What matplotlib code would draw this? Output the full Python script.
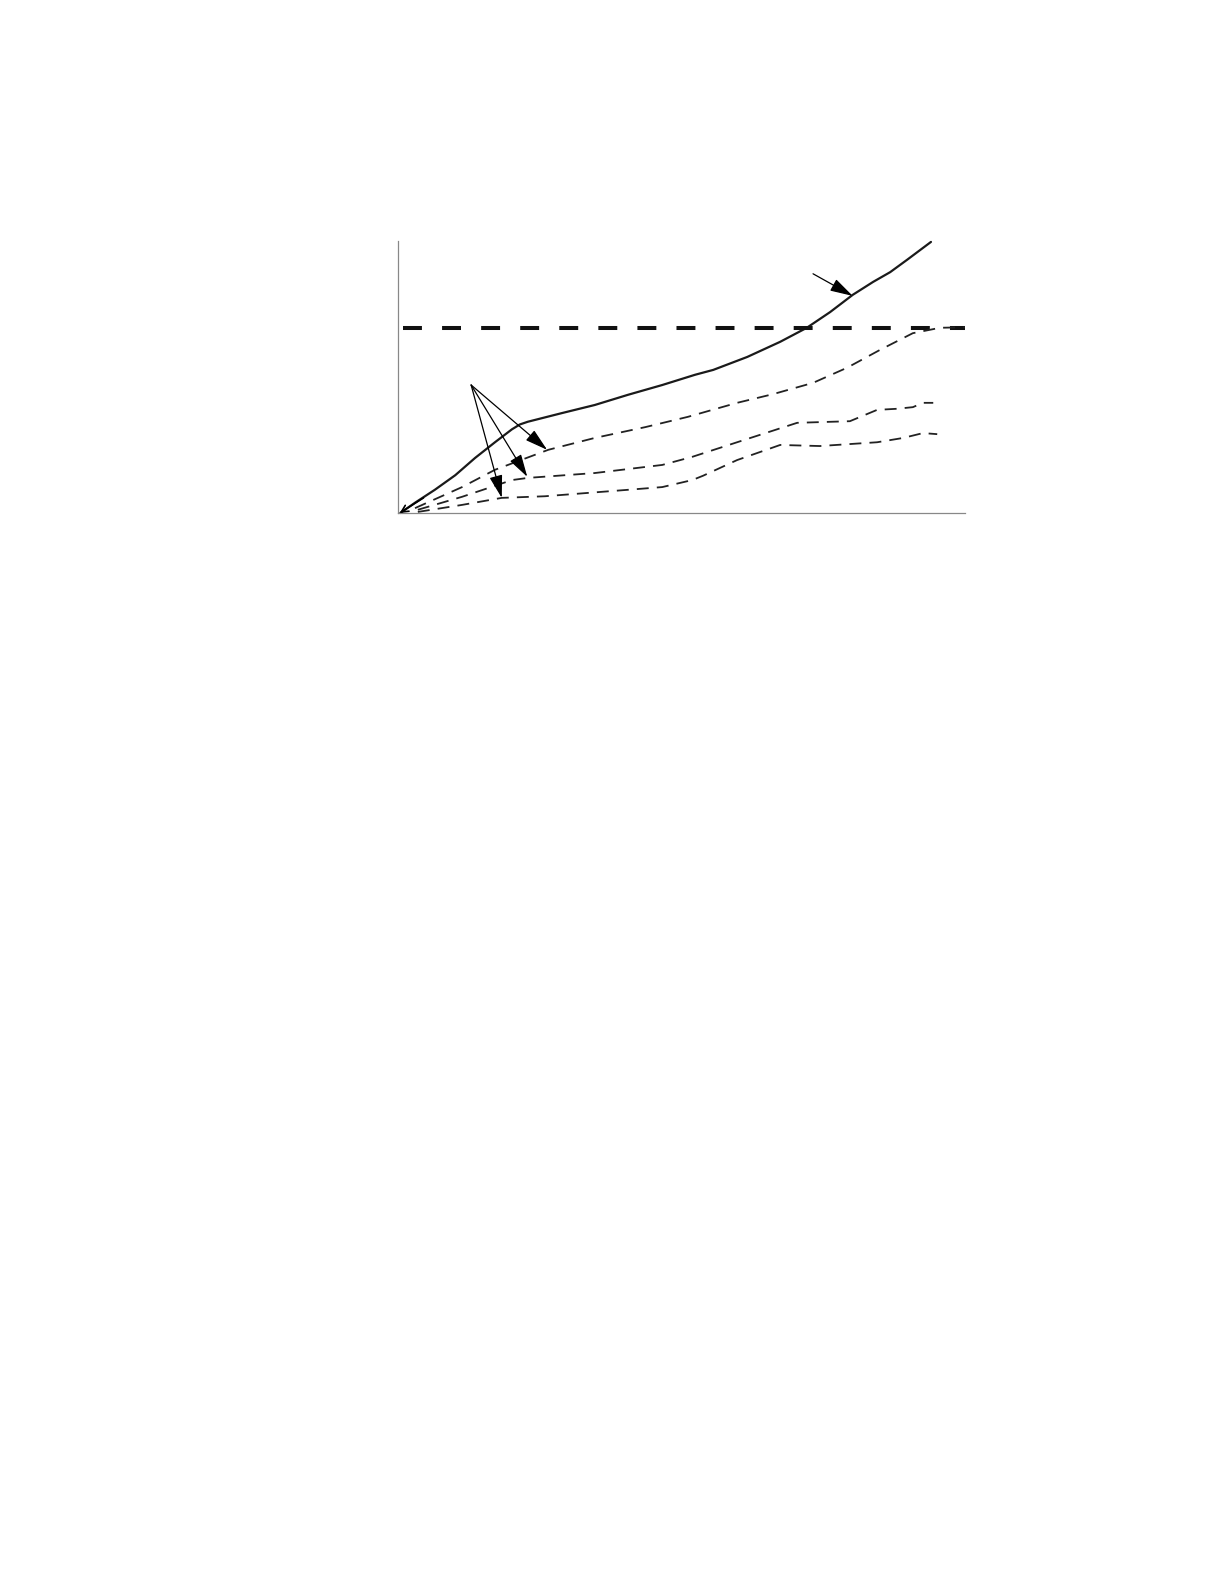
import matplotlib
matplotlib.use("Agg")
import matplotlib.pyplot as plt

# solid curve
solid_x = [0.04, 0.30, 0.65, 1.01, 1.36, 1.71, 2.01, 2.15, 2.29, 2.89, 3.47, 4.06, 4.66,
           5.24, 5.56, 6.16, 6.74, 7.21, 7.62, 8.02, 8.38, 8.68, 8.98, 9.40]
solid_y = [0.00, 0.19, 0.43, 0.70, 1.02, 1.31, 1.55, 1.64, 1.69, 1.85, 2.00, 2.19, 2.37,
           2.56, 2.65, 2.89, 3.17, 3.43, 3.72, 4.04, 4.28, 4.46, 4.69, 5.02]

# horizontal limit line
limit_y = 3.43
limit_x = [0.09, 10.0]

# three thin dashed curves
upper_x = [0.30, 1.13, 1.71, 2.65, 3.47, 4.36, 5.11, 5.98, 6.61, 7.32, 7.92, 8.50,
           9.08, 9.56, 10.0]
upper_y = [0.09, 0.48, 0.80, 1.17, 1.39, 1.59, 1.78, 2.04, 2.20, 2.41, 2.69, 3.02,
           3.33, 3.43, 3.44]
middle_x = [0.35, 1.13, 2.01, 2.29, 3.47, 4.66, 5.19, 5.98, 7.04, 7.97, 8.45, 8.80,
            9.08, 9.26, 9.44]
middle_y = [0.06, 0.30, 0.61, 0.65, 0.74, 0.89, 1.04, 1.31, 1.67, 1.70, 1.91, 1.93,
            1.96, 2.04, 2.04]
lower_x = [0.35, 1.13, 1.83, 2.59, 4.06, 4.66, 5.19, 5.38, 5.98, 6.74, 7.44, 8.45,
           8.91, 9.26, 9.51]
lower_y = [0.02, 0.15, 0.28, 0.31, 0.43, 0.48, 0.61, 0.69, 0.98, 1.26, 1.24, 1.31,
           1.39, 1.48, 1.46]

# annotation arrows
fan_start = (1.29, 2.37)
fan_heads = [(2.63, 1.17), (2.28, 0.67), (1.83, 0.28)]
top_arrow = ((7.32, 4.43), (8.02, 4.02))
origin_arrow = ((0.45, 0.28), (0.03, 0.0))

fig = plt.figure(figsize=(12.24, 15.84), dpi=100)
ax = fig.add_axes([398 / 1224, 1 - 513 / 1584, 567 / 1224, 272 / 1584])

ax.plot(solid_x, solid_y, color="#1a1a1a", lw=1.6, solid_capstyle="round",
        solid_joinstyle="round", clip_on=False)
ax.plot(limit_x, [limit_y, limit_y], color="#111111", lw=2.9, dashes=(4.7, 5.0))
for xs, ys in [(upper_x, upper_y), (middle_x, middle_y), (lower_x, lower_y)]:
    ax.plot(xs, ys, color="#222222", lw=1.3, dashes=(6.6, 4.5))

head = dict(arrowstyle="-|>,head_length=1.4,head_width=0.4", color="black",
            lw=0.9, shrinkA=0, shrinkB=0, mutation_scale=10)
for hx, hy in fan_heads:
    ax.annotate("", xy=(hx, hy), xytext=fan_start, arrowprops=head)
ax.annotate("", xy=top_arrow[1], xytext=top_arrow[0], arrowprops=head)

# small open arrowhead at origin along the solid curve
ax.annotate("", xy=origin_arrow[1], xytext=origin_arrow[0],
            arrowprops=dict(arrowstyle="->,head_length=0.5,head_width=0.25",
                            color="black", lw=1.2, shrinkA=0, shrinkB=0,
                            mutation_scale=10))

ax.set_xlim(0, 10)
ax.set_ylim(0, 272 / 54)
for s in ["top", "right"]:
    ax.spines[s].set_visible(False)
for s in ["left", "bottom"]:
    ax.spines[s].set_color("#888888")
    ax.spines[s].set_linewidth(0.9)
ax.set_xticks([])
ax.set_yticks([])
ax.patch.set_alpha(0)

fig.savefig("out.png", dpi=100)
